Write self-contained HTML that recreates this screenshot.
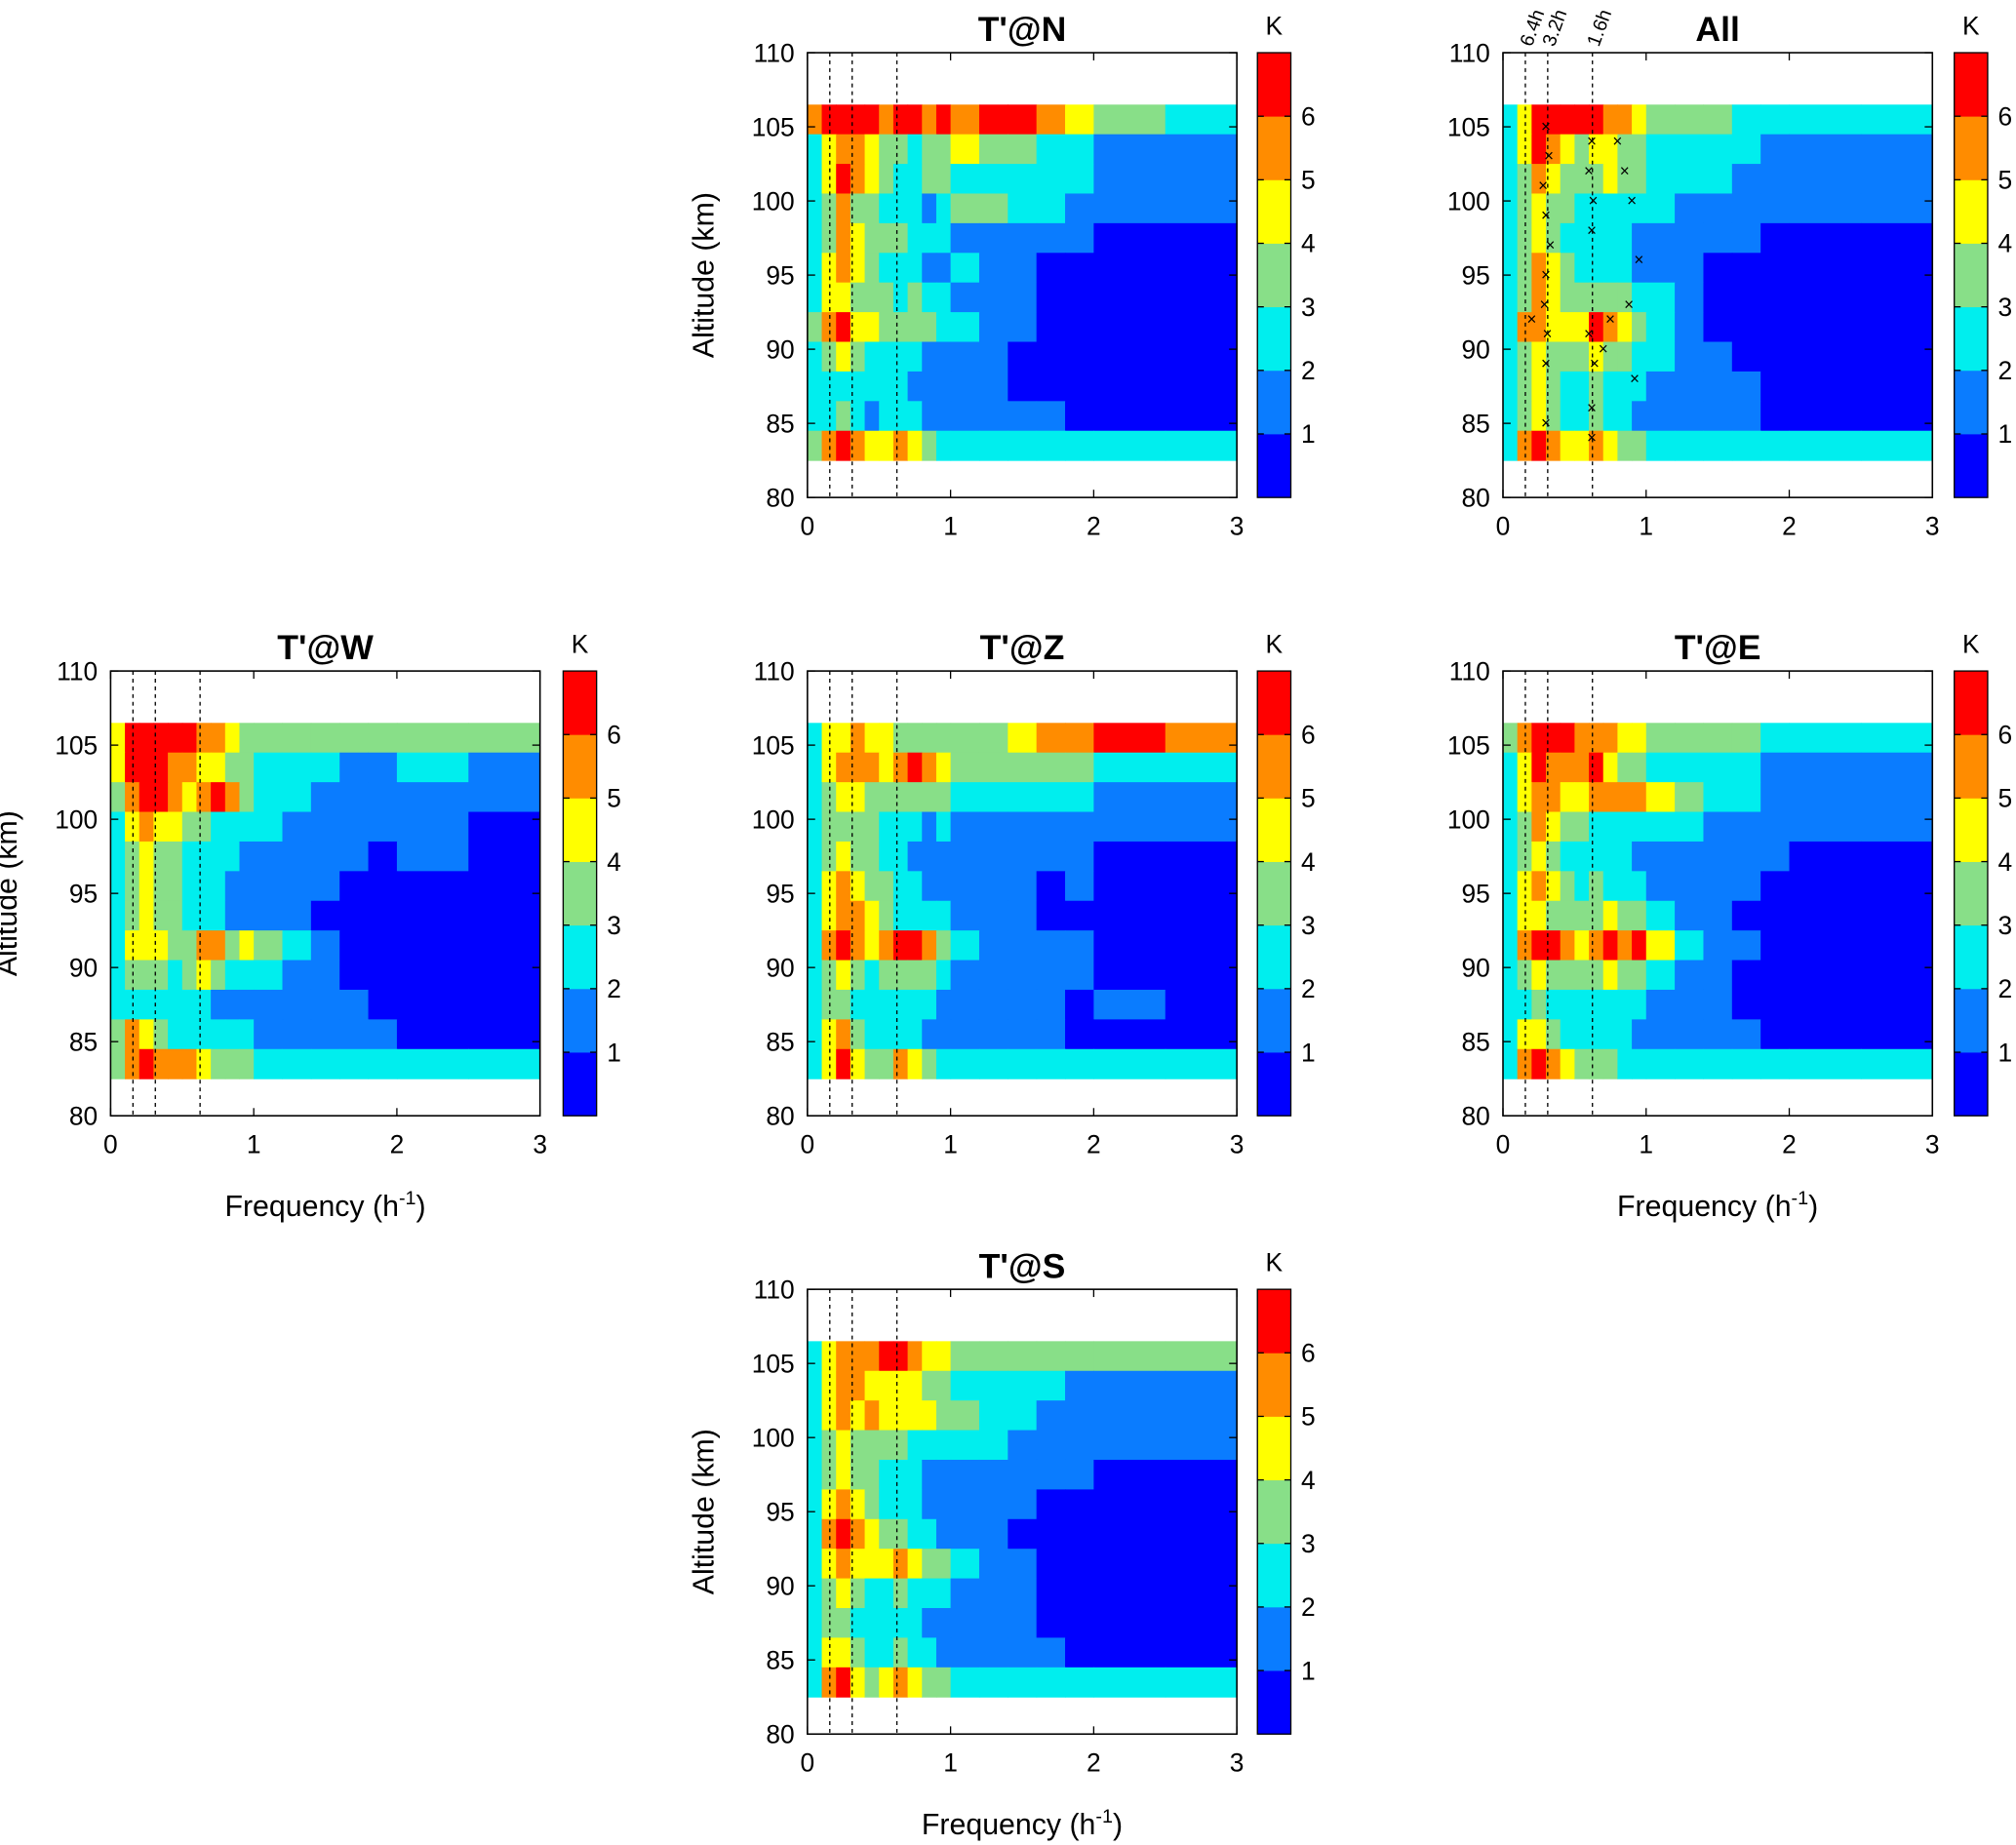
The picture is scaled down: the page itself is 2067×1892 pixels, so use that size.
<!DOCTYPE html>
<html><head><meta charset="utf-8"><style>
html,body{margin:0;padding:0;background:#fff;}
svg{display:block;font-family:"Liberation Sans",Arial,sans-serif;}
</style></head><body>
<svg id="fig" xmlns="http://www.w3.org/2000/svg" width="2067" height="1892" viewBox="0 0 1568 1435.3"></svg>
<script>
const freqEdges=[0,0.1,0.2,0.3,0.4,0.5,0.6,0.7,0.8,0.9,1.0,1.2,1.4,1.6,1.8,2.0,2.5,3.0];
const altEdges=[106.5,104.5,102.5,100.5,98.5,96.5,94.5,92.5,90.5,88.5,86.5,84.5,82.5];
const periodLines=[0.15625,0.3125,0.625];
const periodLabels=["6.4h","3.2h","1.6h"];
const xTicks=[0,1,2,3];
const yTicks=[80,85,90,95,100,105,110];
const cbTicks=[1,2,3,4,5,6];
const levelColors=["#0000ff","#0a7cff","#00eeee","#88df88","#ffff00","#ff8c00","#ff0000"];
const dataN=[
[5,6,6,6,6,5,6,6,5,6,5,6,6,5,4,3,2],
[2,4,5,5,4,3,3,2,3,3,4,3,3,2,2,1,1],
[2,4,6,5,4,3,2,2,3,3,2,2,2,2,2,1,1],
[2,3,5,3,3,2,2,2,1,2,3,3,2,2,1,1,1],
[2,3,5,4,3,3,3,2,2,2,1,1,1,1,1,0,0],
[2,4,5,4,3,2,2,2,1,1,2,1,1,0,0,0,0],
[2,4,4,3,3,3,2,3,2,2,1,1,1,0,0,0,0],
[3,5,6,4,4,3,3,3,3,2,2,1,1,0,0,0,0],
[2,3,4,3,2,2,2,2,1,1,1,1,0,0,0,0,0],
[2,2,2,2,2,2,2,1,1,1,1,1,0,0,0,0,0],
[2,2,3,2,1,2,2,2,1,1,1,1,1,1,0,0,0],
[3,5,6,5,4,4,5,4,3,2,2,2,2,2,2,2,2]];
const dataAll=[
[2,4,6,6,6,6,6,5,5,4,3,3,3,2,2,2,2],
[2,4,6,5,4,3,4,4,3,3,2,2,2,2,1,1,1],
[2,3,5,4,3,3,3,4,3,3,2,2,2,1,1,1,1],
[2,3,4,3,3,2,2,2,2,2,2,1,1,1,1,1,1],
[2,3,4,3,2,2,2,2,2,1,1,1,1,1,0,0,0],
[2,3,5,4,3,2,2,2,2,1,1,1,0,0,0,0,0],
[2,3,5,4,3,3,3,3,3,2,2,1,0,0,0,0,0],
[2,5,5,4,4,4,6,5,4,3,2,1,0,0,0,0,0],
[2,3,4,3,3,3,4,3,3,2,2,1,1,0,0,0,0],
[2,3,4,3,2,2,3,2,2,2,1,1,1,1,0,0,0],
[2,3,4,3,2,2,3,2,2,1,1,1,1,1,0,0,0],
[2,5,6,5,4,4,5,4,3,3,2,2,2,2,2,2,2]];
const dataW=[
[4,6,6,6,6,6,5,5,4,3,3,3,3,3,3,3,3],
[4,6,6,6,5,5,4,4,3,3,2,2,2,1,1,2,1],
[3,5,6,6,5,4,5,6,5,3,2,2,1,1,1,1,1],
[2,4,5,4,4,3,3,2,2,2,2,1,1,1,1,1,0],
[2,3,4,3,3,2,2,2,2,1,1,1,1,1,0,1,0],
[2,3,4,3,3,2,2,2,1,1,1,1,1,0,0,0,0],
[2,3,4,3,3,2,2,2,1,1,1,1,0,0,0,0,0],
[2,4,4,4,3,3,5,5,3,4,3,2,1,0,0,0,0],
[2,3,3,3,2,3,4,3,2,2,2,1,1,0,0,0,0],
[2,2,2,2,2,2,2,1,1,1,1,1,1,1,0,0,0],
[3,5,4,3,2,2,2,2,2,2,1,1,1,1,1,0,0],
[3,5,6,5,5,5,4,3,3,3,2,2,2,2,2,2,2]];
const dataZ=[
[2,4,4,5,4,4,3,3,3,3,3,3,4,5,5,6,5],
[2,4,5,5,5,4,5,6,5,4,3,3,3,3,3,2,2],
[2,3,4,4,3,3,3,3,3,3,2,2,2,2,2,1,1],
[2,3,3,3,3,2,2,2,1,2,1,1,1,1,1,1,1],
[2,3,4,3,3,2,2,1,1,1,1,1,1,1,1,0,0],
[2,4,5,4,3,3,2,2,1,1,1,1,1,0,1,0,0],
[2,4,5,5,4,3,2,2,2,2,1,1,1,0,0,0,0],
[2,5,6,5,4,5,6,6,5,3,2,1,1,1,1,0,0],
[2,3,4,3,2,3,3,3,3,2,1,1,1,1,1,0,0],
[2,3,3,2,2,2,2,2,2,1,1,1,1,1,0,1,0],
[2,4,5,3,2,2,2,2,1,1,1,1,1,1,0,0,0],
[2,4,6,4,3,3,5,4,3,2,2,2,2,2,2,2,2]];
const dataE=[
[3,5,6,6,6,5,5,5,4,4,3,3,3,3,2,2,2],
[2,4,6,5,5,5,6,4,3,3,2,2,2,2,1,1,1],
[2,4,5,5,4,4,5,5,5,5,4,3,2,2,1,1,1],
[2,3,5,4,3,3,2,2,2,2,2,2,1,1,1,1,1],
[2,3,4,3,2,2,2,2,2,1,1,1,1,1,1,0,0],
[2,4,5,4,3,2,3,2,2,2,1,1,1,1,0,0,0],
[2,4,4,3,3,3,3,4,3,3,2,1,1,0,0,0,0],
[2,5,6,6,5,4,5,6,5,6,4,2,1,1,0,0,0],
[2,3,4,3,3,3,3,4,3,3,2,1,1,0,0,0,0],
[2,2,3,2,2,2,2,2,2,2,1,1,1,0,0,0,0],
[2,4,4,3,2,2,2,2,2,1,1,1,1,1,0,0,0],
[2,5,6,5,4,3,3,3,2,2,2,2,2,2,2,2,2]];
const dataS=[
[2,4,5,5,5,6,6,5,4,4,3,3,3,3,3,3,3],
[2,4,5,5,4,4,4,4,3,3,2,2,2,2,1,1,1],
[2,4,5,4,5,4,4,4,4,3,3,2,2,1,1,1,1],
[2,3,4,3,3,3,3,2,2,2,2,2,1,1,1,1,1],
[2,3,4,3,3,2,2,2,1,1,1,1,1,1,1,0,0],
[2,4,5,4,3,2,2,2,1,1,1,1,1,0,0,0,0],
[2,5,6,5,4,3,3,2,2,1,1,1,0,0,0,0,0],
[2,4,5,4,4,4,5,4,3,3,2,1,1,0,0,0,0],
[2,3,4,3,2,2,3,2,2,2,1,1,1,0,0,0,0],
[2,3,3,2,2,2,2,2,1,1,1,1,1,0,0,0,0],
[2,4,4,3,2,2,3,2,2,1,1,1,1,1,0,0,0],
[2,5,6,4,3,4,5,4,3,3,2,2,2,2,2,2,2]];
const markFreq=[0.3,0.32,0.28,0.3,0.33,0.3,0.29,0.31,0.3,0.2,0.3,0.62,0.6,0.63,0.62,0.6,0.64,0.62,0.8,0.85,0.9,0.95,0.88,0.75,0.7,0.92,0.62];
const markAlt=[105,103,101,99,97,95,93,91,89,92,85,104,102,100,98,91,89,86,104,102,100,96,93,92,90,88,84];

const svg=document.getElementById('fig');
const NS='http://www.w3.org/2000/svg';
function el(tag,attrs,parent,text){const e=document.createElementNS(NS,tag);for(const k in attrs)e.setAttribute(k,attrs[k]);if(text!==undefined)e.textContent=text;(parent||svg).appendChild(e);return e;}
function colorOf(v){return levelColors[Math.max(0,Math.min(6,Math.floor(v)))];}

const panels=[
{key:'n',title:"T'@N",x:628,y:41,data:dataN,cb:978,ylab:true,xlab:false},
{key:'all',title:"All",x:1169,y:41,data:dataAll,cb:1520,ylab:false,xlab:false},
{key:'w',title:"T'@W",x:86,y:522,data:dataW,cb:438,ylab:true,xlab:true},
{key:'z',title:"T'@Z",x:628,y:522,data:dataZ,cb:978,ylab:false,xlab:false},
{key:'e',title:"T'@E",x:1169,y:522,data:dataE,cb:1520,ylab:false,xlab:true},
{key:'s',title:"T'@S",x:628,y:1003,data:dataS,cb:978,ylab:true,xlab:true}];
const W=334,H=346;

panels.forEach(p=>{
  const g=el('g',{});
  
  
  const xs=f=>p.x+f/3*W;
  const ys=a=>p.y+(110-a)/30*H;
  const cells=el('g',{},g);
  
  
  for(let r=0;r<p.data.length;r++){
    for(let c=0;c<p.data[r].length;c++){
      const x0=xs(freqEdges[c]),x1=xs(freqEdges[c+1]);
      const y0=ys(altEdges[r]),y1=ys(altEdges[r+1]);
      const rc=el('rect',{x:x0,y:y0,width:x1-x0+0.4,height:y1-y0+0.4,fill:colorOf(p.data[r][c])},cells);
      
      
    }
  }
  periodLines.forEach(f=>{
    const l=el('line',{x1:xs(f),x2:xs(f),y1:ys(110),y2:ys(80),stroke:'#000','stroke-width':1,'stroke-dasharray':'3,3'},g);
    
    
  });
  if(p.key==='all'){
    for(let i=0;i<markFreq.length;i++){
      const t=el('text',{x:xs(markFreq[i]),y:ys(markAlt[i])+4,'font-size':13,'text-anchor':'middle',fill:'#000'},g,'×');
      
      
    }
    periodLines.forEach((f,i)=>{
      const t=el('text',{x:xs(f)+5,y:ys(110)-4,'font-size':15,transform:`rotate(-70 ${xs(f)+5} ${ys(110)-4})`},g,periodLabels[i]);
      
      
    });
  }
  const fr=el('rect',{x:p.x,y:p.y,width:W,height:H,fill:'none',stroke:'#000','stroke-width':1.2},g);
  
  
  xTicks.forEach(t=>{
    el('line',{x1:xs(t),x2:xs(t),y1:p.y+H,y2:p.y+H-6,stroke:'#000'},g);
    el('line',{x1:xs(t),x2:xs(t),y1:p.y,y2:p.y+6,stroke:'#000'},g);
    const tx=el('text',{x:xs(t),y:p.y+H+29,'font-size':20,'text-anchor':'middle'},g,String(t));
    
    
  });
  yTicks.forEach(t=>{
    el('line',{x1:p.x,x2:p.x+6,y1:ys(t),y2:ys(t),stroke:'#000'},g);
    el('line',{x1:p.x+W,x2:p.x+W-6,y1:ys(t),y2:ys(t),stroke:'#000'},g);
    const tx=el('text',{x:p.x-10,y:ys(t)+7,'font-size':20,'text-anchor':'end'},g,String(t));
    
    
  });
  const ti=el('text',{x:p.x+W/2,y:p.y-9,'font-size':27,'font-weight':'bold','text-anchor':'middle'},g,p.title);
  
  
  if(p.ylab){
    const cx=p.x-73,cy=p.y+H/2;
    const yl=el('text',{x:cx,y:cy,'font-size':23,'text-anchor':'middle',transform:`rotate(-90 ${cx} ${cy})`},g,'Altitude (km)');
    
    
  }
  if(p.xlab){
    const xl=el('text',{x:p.x+W/2,y:p.y+H+78,'font-size':23,'text-anchor':'middle'},g);
    
    
    el('tspan',{},xl,'Frequency (h');
    el('tspan',{dy:-9,'font-size':15},xl,'-1');
    el('tspan',{dy:9},xl,')');
  }
  const cb=el('g',{},g);
  
  
  const cbH=H/7,cbW=26;
  for(let k=0;k<7;k++){
    el('rect',{x:p.cb,y:p.y+H-(k+1)*cbH,width:cbW,height:cbH+0.3,fill:levelColors[k]},cb);
  }
  el('rect',{x:p.cb,y:p.y,width:cbW,height:H,fill:'none',stroke:'#000','stroke-width':1},cb);
  cbTicks.forEach(t=>{
    const yy=p.y+H-t*cbH;
    el('line',{x1:p.cb+cbW-5,x2:p.cb+cbW,y1:yy,y2:yy,stroke:'#000'},cb);
    el('line',{x1:p.cb,x2:p.cb+5,y1:yy,y2:yy,stroke:'#000'},cb);
    const tx=el('text',{x:p.cb+cbW+8,y:yy+7,'font-size':20},cb,String(t));
    
    
  });
  const k=el('text',{x:p.cb+13,y:p.y-14,'font-size':20,'text-anchor':'middle'},cb,'K');
  
  
});
</script>
</body></html>
